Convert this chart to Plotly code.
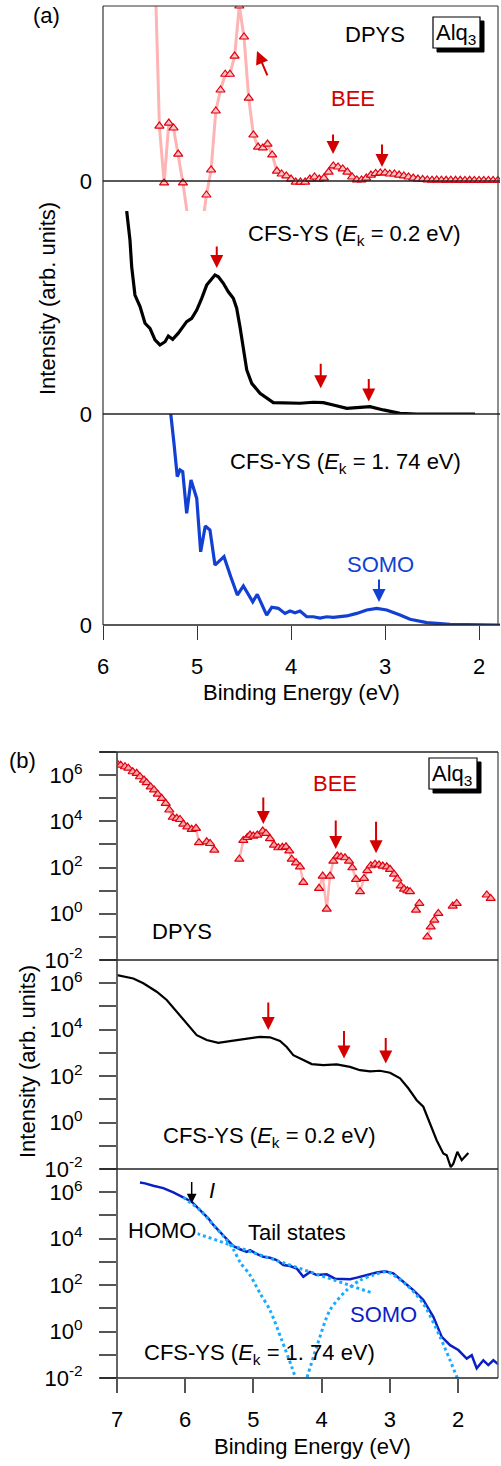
import numpy as np
import plotly.graph_objects as go

W, H = 501, 1466

# ---------------- Panel (a) : linear intensity ----------------
a_dpys_E = [5.45, 5.40, 5.35, 5.30, 5.25, 5.20, 5.15, 5.10, 5.05, 5.00, 4.95, 4.90, 4.85, 4.80,
            4.75, 4.70, 4.65, 4.60, 4.55, 4.50, 4.45, 4.40, 4.35, 4.30, 4.25, 4.20, 4.15, 4.10,
            4.05, 4.00, 3.95, 3.90, 3.85, 3.80, 3.75, 3.70, 3.65, 3.60, 3.55, 3.50, 3.45, 3.40,
            3.35, 3.30, 3.25, 3.20, 3.15, 3.10, 3.05, 3.00, 2.95, 2.90, 2.85, 2.80, 2.75, 2.70,
            2.65, 2.60, 2.55, 2.50, 2.45, 2.40, 2.35, 2.30, 2.25, 2.20, 2.15, 2.10, 2.05, 2.00,
            1.95, 1.90, 1.85, 1.80]
a_dpys_I = [126, 31.4, -1.1, 33.1, 30.3, 15.4, -1.1, -20, -45, -45, -28, -8, 6.3, 40,
            52, 61, 61, 71.4, 100, 82.3, 47.4, 26.3, 19.4, 18.9, 21.1, 14.9, 5.7, 4.0,
            2.9, 1.1, -0.6, -0.6, -0.6, 1.1, 2.3, 1.1, 1.7, 5.1, 8.6, 8.0, 6.9, 5.1,
            2.3, 0.6, 0.6, 1.7, 3.4, 4.3, 4.6, 4.6, 4.0, 4.0, 3.4, 2.9, 2.3, 1.7,
            1.1, 0.9, 0.6, 0.5, 0.6, 0.5, 0.4, 0.5, 0.4, 0.4, 0.3, 0.4, 0.3, 0.3,
            0.3, 0.3, 0.3, 0.3]

a_cfs02_E = [5.748, 5.713, 5.695, 5.660, 5.606, 5.553, 5.500, 5.447, 5.394, 5.340, 5.305, 5.259,
             5.199, 5.110, 5.056, 5.003, 4.950, 4.897, 4.809, 4.773, 4.720, 4.667, 4.614, 4.578,
             4.543, 4.507, 4.471, 4.418, 4.330, 4.188, 4.046, 3.904, 3.763, 3.656, 3.550, 3.407,
             3.266, 3.160, 3.018, 2.840, 2.663, 2.043]
a_cfs02_I = [100, 85.7, 72.6, 58.6, 52.9, 44.7, 42.2, 36.5, 34.0, 35.6, 38.4, 36.8,
             39.8, 45.5, 47.1, 51.2, 57.0, 63.5, 68.5, 67.6, 64.4, 60.2, 57.0, 52.1,
             43.0, 33.2, 21.7, 15.1, 10.2, 5.6, 5.3, 5.3, 5.8, 5.6, 4.4, 2.8,
             3.3, 3.6, 2.0, 0.3, 0.0, 0.0]

a_cfs174_E = [5.30, 5.280, 5.245, 5.210, 5.181, 5.152, 5.110, 5.064, 5.003, 4.961, 4.912, 4.862,
              4.809, 4.713, 4.641, 4.571, 4.507, 4.407, 4.359, 4.259, 4.205, 4.135, 4.064, 4.011,
              3.957, 3.904, 3.833, 3.763, 3.691, 3.620, 3.550, 3.479, 3.407, 3.301, 3.195, 3.088,
              2.982, 2.840, 2.734, 2.556, 2.309, 1.777]
a_cfs174_I = [115, 100.3, 86.1, 70.3, 73.5, 72.7, 52.9, 68.7, 60.0, 34.7, 46.9, 45.0,
              28.4, 32.4, 22.9, 14.2, 18.5, 11.0, 14.5, 4.7, 8.4, 7.9, 5.5, 6.6,
              5.8, 6.6, 3.9, 3.9, 3.3, 3.9, 3.6, 3.9, 4.3, 5.5, 7.1, 7.9,
              7.1, 4.7, 2.7, 1.1, 0.3, 0.0]

a_xticks = [6, 5, 4, 3, 2]

# arrows: (y axis, energy, intensity at head, tail dx px, tail dy px, colour key)
a_arrows = [('y3', 3.553, 15.4, 0, -21, 'red'), ('y3', 3.032, 8.0, 0, -24, 'red'),
            ('y3', 4.362, 74.3, 11, 26, 'red'),
            ('y2', 4.790, 71.9, 0, -23, 'red'), ('y2', 3.684, 12.7, 0, -26, 'red'),
            ('y2', 3.173, 6.1, 0, -24, 'red'),
            ('y', 3.064, 10.9, 0, -24, 'blue')]

# ---------------- Panel (b) : log intensity ----------------
b_dpys_E = [7.00, 6.946, 6.883, 6.834, 6.770, 6.711, 6.663, 6.604, 6.565, 6.506, 6.457, 6.403,
            6.345, 6.286, 6.233, 6.183, 6.125, 6.076, 6.028, 5.969, 5.905, 5.842, 5.798, 5.685,
            5.636, 5.573, None,
            5.207, 5.148, 5.089, 5.050, 5.001, 4.943, 4.864, 4.815, 4.757, 4.698, 4.635, 4.576,
            4.522, 4.474, 4.438, 4.375, 4.317, 4.268, None,
            4.038, 3.984, 3.925, 3.877, 3.828, 3.770, 3.716, 3.657, 3.598, 3.550, 3.496, 3.437,
            3.378, 3.330, 3.280, 3.217, 3.158, 3.104, 3.045, 2.997, 2.938, 2.890, 2.840, 2.792,
            2.743, 2.704, None,
            2.616, 2.567, None,
            2.450, 2.400, 2.347, 2.289, None,
            2.078, 2.019, None,
            1.579, 1.521]
b_dpys_I = [3.2e6, 2.7e6, 2.3e6, 2.0e6, 1.4e6, 1.2e6, 8.5e5, 6.1e5, 4.7e5, 3.1e5, 2.3e5, 1.5e5,
            9.9e4, 6.0e4, 3.1e4, 1.5e4, 1.35e4, 1.2e4, 7.6e3, 5.8e3, 4.5e3, 5.0e3, 1.2e3, 1.3e3,
            1.1e3, 5.7e2, None,
            2.3e2, 1.5e3, 2.0e3, 2.55e3, 2.3e3, 2.55e3, 3.8e3, 3.0e3, 1.8e3, 9.4e2, 7.2e2, 7.5e2,
            7.9e2, 5.3e2, 2.3e2, 1.6e2, 1.08e2, 23, None,
            12.6, 43, 1.6, 43, 1.9e2, 3.15e2, 2.9e2, 2.65e2, 1.9e2, 98, 31, 9.0,
            34, 73, 1.2e2, 1.4e2, 1.3e2, 1.16e2, 1.08e2, 84, 52, 32, 16, 11.7,
            9.9, 9.0, None,
            1.45, 2.8, None,
            0.10, 0.27, 0.53, 1.04, None,
            2.15, 2.8, None,
            6.5, 4.6]

b_cfs02_E = [7.00, 6.761, 6.614, 6.418, 6.271, 6.125, 5.978, 5.831, 5.685, 5.515, 5.343, 5.098,
             4.903, 4.757, 4.610, 4.512, 4.415, 4.268, 4.145, 3.975, 3.779, 3.584, 3.437, 3.290,
             3.144, 2.997, 2.850, 2.729, 2.606, 2.509, 2.411, 2.312, 2.216, 2.166, 2.107, 2.069,
             2.010, 1.946, 1.849]
b_cfs02_I = [2.25e6, 1.6e6, 9.9e5, 4.3e5, 1.9e5, 5.9e4, 1.9e4, 5.8e3, 3.6e3, 2.7e3, 3.2e3, 3.9e3,
             4.9e3, 4.7e3, 3.3e3, 1.8e3, 8.0e2, 4.9e2, 3.3e2, 3.0e2, 3.2e2, 2.5e2, 1.8e2, 1.6e2,
             1.7e2, 1.4e2, 80, 30, 9.2, 4.8, 0.91, 0.17, 0.047, 0.039, 0.012, 0.017,
             0.055, 0.024, 0.049]

b_cfs174_E = [6.663, 6.589, 6.468, 6.321, 6.174, 6.028, 5.905, 5.783, 5.661, 5.588, 5.490, 5.392,
              5.295, 5.196, 5.098, 5.050, 4.952, 4.855, 4.757, 4.658, 4.560, 4.463, 4.365, 4.268,
              4.170, 4.072, 3.925, 3.804, 3.682, 3.584, 3.485, 3.339, 3.192, 3.070, 2.949, 2.802,
              2.655, 2.509, 2.362, 2.239, 2.117, 1.996, 1.872, 1.799, 1.726, 1.629, 1.556, 1.482,
              1.409]
b_cfs174_I = [2.6e6, 2.4e6, 1.9e6, 1.5e6, 9.9e5, 6.0e5, 3.9e5, 1.7e5, 7.5e4, 3.9e4, 2.0e4, 1.03e4,
              4.8e3, 3.5e3, 2.7e3, 3.2e3, 2.2e3, 1.66e3, 1.5e3, 1.2e3, 7.3e2, 6.6e2, 5.2e2, 2.3e2,
              3.7e2, 2.7e2, 2.9e2, 1.9e2, 1.8e2, 1.8e2, 2.1e2, 2.7e2, 3.5e2, 3.9e2, 3.2e2, 1.4e2,
              61, 23, 4.3, 0.59, 0.26, 0.16, 0.069, 0.096, 0.026, 0.058, 0.036, 0.058,
              0.039]

b_homo_E = [6.028, 5.783, 5.588, 5.440, 5.295, 5.196, 5.050, 4.903, 4.757, 4.585, 4.438, 4.30]
b_homo_I = [6.0e5, 1.7e5, 3.9e4, 1.3e4, 3.5e3, 9.8e2, 2.7e2, 45, 8.3, 0.43, 0.030, 0.002]

b_tail_E = [6.49, 3.24]
b_tail_I = [7.6e4, 44]

b_somo_E = [4.24, 4.072, 3.877, 3.632, 3.437, 3.242, 3.045, 2.752, 2.509, 2.264, 2.117, 1.98]
b_somo_I = [0.006, 0.22, 8.4, 61, 1.6e2, 2.7e2, 3.7e2, 1.0e2, 16, 0.59, 0.058, 0.006]

b_xticks = [7, 6, 5, 4, 3, 2]
b_decades = list(range(-2, 8))
b_ytext = ['10<sup>-2</sup>', '', '10<sup>0</sup>', '', '10<sup>2</sup>', '',
           '10<sup>4</sup>', '', '10<sup>6</sup>', '']

b_arrows = [('y6', 4.855, 7.6e3, -28, 'red'), ('y6', 3.793, 6.3e2, -30, 'red'),
            ('y6', 3.202, 4.2e2, -33, 'red'),
            ('y5', 4.782, 9.6e3, -29, 'red'), ('y5', 3.672, 5.8e2, -29, 'red'),
            ('y5', 3.060, 3.5e2, -27, 'red'),
            ('y4', 5.905, 3.3e5, -23, 'black')]

# ---------------- styling ----------------
RED = '#d40000'
PINK = '#ffb4b4'
TRI_FILL = '#ffc4c4'
BLUE_A = '#1240d2'
BLUE_B = '#0a1ec4'
CYAN = '#1aaaff'
FONT = 'Liberation Sans, Arial, sans-serif'


def xp(px):
    return px / W


def yp(py):
    return 1 - py / H


fig = go.Figure()

# panel (a)
fig.add_trace(go.Scatter(x=a_dpys_E, y=a_dpys_I, xaxis='x', yaxis='y3', mode='lines+markers',
                         line=dict(color=PINK, width=3),
                         marker=dict(symbol='triangle-up', size=8, color=TRI_FILL,
                                     line=dict(color='#e00010', width=1.2))))
fig.add_trace(go.Scatter(x=a_cfs02_E, y=a_cfs02_I, xaxis='x', yaxis='y2', mode='lines',
                         line=dict(color='black', width=3.2)))
fig.add_trace(go.Scatter(x=a_cfs174_E, y=a_cfs174_I, xaxis='x', yaxis='y', mode='lines',
                         line=dict(color=BLUE_A, width=3.2)))

# panel (b)
fig.add_trace(go.Scatter(x=b_dpys_E, y=b_dpys_I, xaxis='x2', yaxis='y6', mode='lines+markers',
                         connectgaps=False,
                         line=dict(color=PINK, width=2.5),
                         marker=dict(symbol='triangle-up', size=8, color='#f8a8a8',
                                     line=dict(color='#e00010', width=1.2))))
fig.add_trace(go.Scatter(x=b_cfs02_E, y=b_cfs02_I, xaxis='x2', yaxis='y5', mode='lines',
                         line=dict(color='black', width=2.2)))
fig.add_trace(go.Scatter(x=b_cfs174_E, y=b_cfs174_I, xaxis='x2', yaxis='y4', mode='lines',
                         line=dict(color=BLUE_B, width=2.5)))
for ex, iy in [(b_tail_E, b_tail_I), (b_homo_E, b_homo_I), (b_somo_E, b_somo_I)]:
    fig.add_trace(go.Scatter(x=ex, y=iy, xaxis='x2', yaxis='y4', mode='lines',
                             line=dict(color=CYAN, width=3, dash='dot', shape='spline',
                                       smoothing=0.8)))

# ---------------- axes ----------------
lin_y = dict(tickvals=[0], ticktext=['0'], ticks='', showgrid=False, zeroline=False,
             showline=False, ticklabelstandoff=10, fixedrange=True, anchor='x',
             automargin=False)
log_y = dict(type='log', range=[-2, 7], tickvals=[10.0 ** k for k in b_decades],
             ticktext=b_ytext, ticks='outside', ticklen=17, tickwidth=1.5, tickcolor='#555',
             showgrid=False, zeroline=False, showline=False, ticklabelstandoff=12,
             anchor='x2', automargin=False)

fig.update_layout(
    template='none',
    width=W, height=H, autosize=False,
    margin=dict(l=0, r=0, t=0, b=0, pad=0),
    paper_bgcolor='white', plot_bgcolor='rgba(0,0,0,0)',
    font=dict(family=FONT, size=22, color='black'),
    showlegend=False,
    xaxis=dict(domain=[xp(103), xp(500)], range=[6, 1.777], anchor='y', tickvals=a_xticks,
               ticks='outside', ticklen=14, tickwidth=1.2, tickcolor='#333', showline=False,
               showgrid=False, zeroline=False, ticklabelstandoff=8, automargin=False),
    yaxis=dict(domain=[yp(625), yp(414)], range=[0, 100], **lin_y),
    yaxis2=dict(domain=[yp(414), yp(211)], range=[0, 100], **lin_y),
    yaxis3=dict(domain=[yp(211), yp(6)], range=[-17.14, 100], **lin_y),
    xaxis2=dict(domain=[xp(117), xp(498)], range=[7, 1.414], anchor='y4', tickvals=b_xticks,
                ticks='outside', ticklen=14, tickwidth=1.5, tickcolor='#555', showline=False,
                showgrid=False, zeroline=False, ticklabelstandoff=8, automargin=False),
    yaxis4=dict(domain=[yp(1378), yp(1169)], **log_y),
    yaxis5=dict(domain=[yp(1169), yp(960)], **log_y),
    yaxis6=dict(domain=[yp(960), yp(752)], **log_y),
)

# ---------------- frame lines ----------------
shapes = []


def pline(x0, y0, x1, y1, color='#222', width=1.2):
    shapes.append(dict(type='line', xref='paper', yref='paper', x0=xp(x0), y0=yp(y0),
                       x1=xp(x1), y1=yp(y1), line=dict(color=color, width=width)))


# panel (a)
pline(103, 6, 103, 625, '#333', 1.2)
pline(103, 6, 498, 6, '#333', 1.2)
pline(498, 6, 498, 625, '#444', 1.2)
for yy in (181, 414, 625):
    pline(103, yy, 500, yy, '#222', 1.3)
# panel (b)
pline(117, 752, 117, 1378, '#555', 1.8)
pline(498, 752, 498, 1378, '#666', 1.5)
for yy in (752, 960, 1169, 1378):
    pline(100, yy, 498, yy, '#222', 1.3)

# Alq3 boxes with drop shadows
for (bx0, by0, bx1, by1) in [(433, 17, 480, 48), (429, 758, 477, 789)]:
    shapes.append(dict(type='rect', xref='paper', yref='paper', x0=xp(bx0 + 4), x1=xp(bx1 + 4),
                       y0=yp(by1 + 4), y1=yp(by0 + 4), fillcolor='black',
                       line=dict(color='black', width=1)))
    shapes.append(dict(type='rect', xref='paper', yref='paper', x0=xp(bx0), x1=xp(bx1),
                       y0=yp(by1), y1=yp(by0), fillcolor='white',
                       line=dict(color='black', width=1.2)))
fig.update_layout(shapes=shapes)

# ---------------- texts ----------------
ann = []


def text(t, px, py, color='black', size=22, angle=0, bg=None):
    d = dict(text=t, x=xp(px), y=yp(py), xref='paper', yref='paper', showarrow=False,
             xanchor='center', yanchor='middle', textangle=angle,
             font=dict(family=FONT, size=size, color=color))
    if bg:
        d['bgcolor'] = bg
    ann.append(d)


text('(a)', 46, 15)
text('DPYS', 375, 35)
text('BEE', 353, 98, RED)
text('Alq<sub>3</sub>', 456, 34)
text('CFS-YS (<i>E</i><sub>k</sub> = 0.2 eV)', 354, 235)
text('CFS-YS (<i>E</i><sub>k</sub> = 1. 74 eV)', 345, 463)
text('SOMO', 380, 564, BLUE_A)
text('Intensity (arb. units)', 47, 299, angle=-90)
text('Binding Energy (eV)', 301, 693)

text('(b)', 22, 761)
text('BEE', 335, 783, RED)
text('Alq<sub>3</sub>', 452, 775)
text('DPYS', 182, 931)
text('CFS-YS (<i>E</i><sub>k</sub> = 0.2 eV)', 269, 1137)
text('Intensity (arb. units)', 27, 1062, angle=-90)
text('<i>I</i>', 212, 1190)
text('HOMO', 162, 1230, bg='white')
text('Tail states', 297, 1232)
text('SOMO', 383, 1314, BLUE_B)
text('CFS-YS (<i>E</i><sub>k</sub> = 1. 74 eV)', 259, 1354)
text('Binding Energy (eV)', 312, 1446)

cols = {'red': RED, 'blue': BLUE_A, 'black': 'black'}
for yax, e, v, dx, dy, c in a_arrows:
    ann.append(dict(x=e, y=v, xref='x', yref=yax, text='', showarrow=True, ax=dx, ay=dy,
                    arrowhead=2, arrowsize=1.3, arrowwidth=2, arrowcolor=cols[c], standoff=0))
for yax, e, v, dy, c in b_arrows:
    ann.append(dict(x=e, y=float(np.log10(v)), xref='x2', yref=yax, text='', showarrow=True,
                    ax=0, ay=dy, arrowhead=2, arrowsize=1.3,
                    arrowwidth=2 if c == 'red' else 1.5, arrowcolor=cols[c], standoff=0))
fig.update_layout(annotations=ann)

fig.write_html('out.html')
